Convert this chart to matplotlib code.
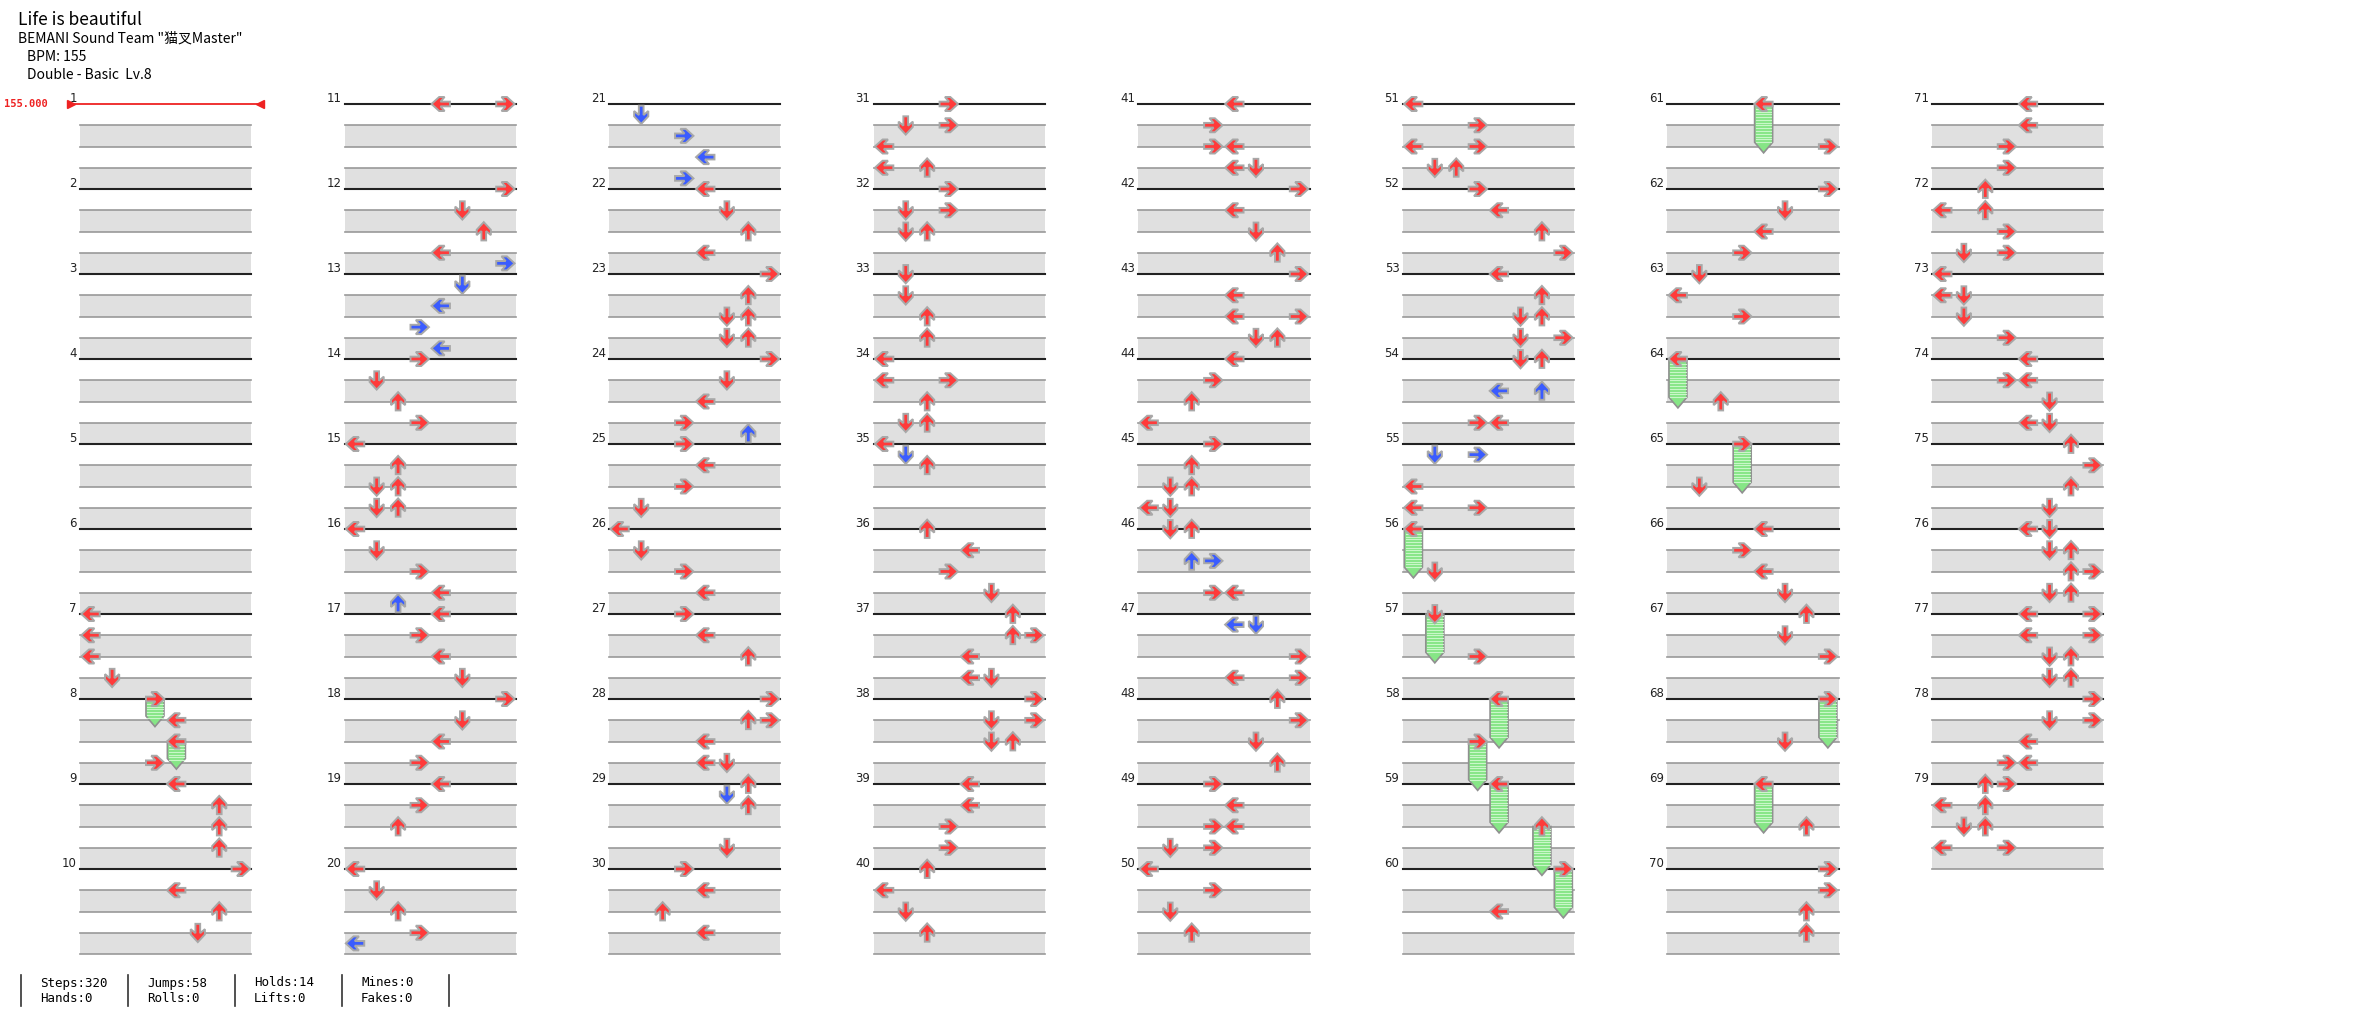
import numpy as np
import matplotlib
matplotlib.use("Agg")
import matplotlib.pyplot as plt
from matplotlib.patches import Polygon, Rectangle

# chart info
title = "Life is beautiful"
artist = 'BEMANI Sound Team "猫叉Master"'
bpm_text = "BPM: 155"
diff_text = "Double - Basic  Lv.8"
bpm_value = "155.000"
n_measures = 79

# notes: measure -> [(beat, [lanes])]  lanes 0..7 = L D U R L D U R
notes = {
    7: [(0, [0]), (1, [0]), (2, [0]), (3, [1])],
    8: [(0, [3]), (1, [4]), (2, [4]), (3, [3])],
    9: [(0, [4]), (1, [6]), (2, [6]), (3, [6])],
    10: [(0, [7]), (1, [4]), (2, [6]), (3, [5])],
    11: [(0, [4, 7])],
    12: [(0, [7]), (1, [5]), (2, [6]), (3, [4]), (3.5, [7])],
    13: [(0.5, [5]), (1.5, [4]), (2.5, [3]), (3.5, [4])],
    14: [(0, [3]), (1, [1]), (2, [2]), (3, [3])],
    15: [(0, [0]), (1, [2]), (2, [1, 2]), (3, [1, 2])],
    16: [(0, [0]), (1, [1]), (2, [3]), (3, [4]), (3.5, [2])],
    17: [(0, [4]), (1, [3]), (2, [4]), (3, [5])],
    18: [(0, [7]), (1, [5]), (2, [4]), (3, [3])],
    19: [(0, [4]), (1, [3]), (2, [2])],
    20: [(0, [0]), (1, [1]), (2, [2]), (3, [3]), (3.5, [0])],
    21: [(0.5, [1]), (1.5, [3]), (2.5, [4]), (3.5, [3])],
    22: [(0, [4]), (1, [5]), (2, [6]), (3, [4])],
    23: [(0, [7]), (1, [6]), (2, [5, 6]), (3, [5, 6])],
    24: [(0, [7]), (1, [5]), (2, [4]), (3, [3]), (3.5, [6])],
    25: [(0, [3]), (1, [4]), (2, [3]), (3, [1])],
    26: [(0, [0]), (1, [1]), (2, [3]), (3, [4])],
    27: [(0, [3]), (1, [4]), (2, [6])],
    28: [(0, [7]), (1, [6, 7]), (2, [4]), (3, [4, 5])],
    29: [(0, [6]), (0.5, [5]), (1, [6]), (3, [5])],
    30: [(0, [3]), (1, [4]), (2, [2]), (3, [4])],
    31: [(0, [3]), (1, [1, 3]), (2, [0]), (3, [0, 2])],
    32: [(0, [3]), (1, [1, 3]), (2, [1, 2])],
    33: [(0, [1]), (1, [1]), (2, [2]), (3, [2])],
    34: [(0, [0]), (1, [0, 3]), (2, [2]), (3, [1, 2])],
    35: [(0, [0]), (0.5, [1]), (1, [2])],
    36: [(0, [2]), (1, [4]), (2, [3]), (3, [5])],
    37: [(0, [6]), (1, [6, 7]), (2, [4]), (3, [4, 5])],
    38: [(0, [7]), (1, [5, 7]), (2, [5, 6])],
    39: [(0, [4]), (1, [4]), (2, [3]), (3, [3])],
    40: [(0, [2]), (1, [0]), (2, [1]), (3, [2])],
    41: [(0, [4]), (1, [3]), (2, [3, 4]), (3, [4, 5])],
    42: [(0, [7]), (1, [4]), (2, [5]), (3, [6])],
    43: [(0, [7]), (1, [4]), (2, [4, 7]), (3, [5, 6])],
    44: [(0, [4]), (1, [3]), (2, [2]), (3, [0])],
    45: [(0, [3]), (1, [2]), (2, [1, 2]), (3, [0, 1])],
    46: [(0, [1, 2]), (1.5, [2, 3]), (3, [3, 4])],
    47: [(0.5, [4, 5]), (2, [7]), (3, [4, 7])],
    48: [(0, [6]), (1, [7]), (2, [5]), (3, [6])],
    49: [(0, [3]), (1, [4]), (2, [3, 4]), (3, [1, 3])],
    50: [(0, [0]), (1, [3]), (2, [1]), (3, [2])],
    51: [(0, [0]), (1, [3]), (2, [0, 3]), (3, [1, 2])],
    52: [(0, [3]), (1, [4]), (2, [6]), (3, [7])],
    53: [(0, [4]), (1, [6]), (2, [5, 6]), (3, [5, 7])],
    54: [(0, [5, 6]), (1.5, [4, 6]), (3, [3, 4])],
    55: [(0.5, [1, 3]), (2, [0]), (3, [0, 3])],
    56: [(0, [0]), (2, [1])],
    57: [(0, [1]), (2, [3])],
    58: [(0, [4]), (2, [3])],
    59: [(0, [4]), (2, [6])],
    60: [(0, [7]), (2, [4])],
    61: [(0, [4]), (2, [7])],
    62: [(0, [7]), (1, [5]), (2, [4]), (3, [3])],
    63: [(0, [1]), (1, [0]), (2, [3])],
    64: [(0, [0]), (2, [2])],
    65: [(0, [3]), (2, [1])],
    66: [(0, [4]), (1, [3]), (2, [4]), (3, [5])],
    67: [(0, [6]), (1, [5]), (2, [7])],
    68: [(0, [7]), (2, [5])],
    69: [(0, [4]), (2, [6])],
    70: [(0, [7]), (1, [7]), (2, [6]), (3, [6])],
    71: [(0, [4]), (1, [4]), (2, [3]), (3, [3])],
    72: [(0, [2]), (1, [0, 2]), (2, [3]), (3, [1, 3])],
    73: [(0, [0]), (1, [0, 1]), (2, [1]), (3, [3])],
    74: [(0, [4]), (1, [3, 4]), (2, [5]), (3, [4, 5])],
    75: [(0, [6]), (1, [7]), (2, [6]), (3, [5])],
    76: [(0, [4, 5]), (1, [5, 6]), (2, [6, 7]), (3, [5, 6])],
    77: [(0, [4, 7]), (1, [4, 7]), (2, [5, 6]), (3, [5, 6])],
    78: [(0, [7]), (1, [5, 7]), (2, [4]), (3, [3, 4])],
    79: [(0, [2, 3]), (1, [0, 2]), (2, [1, 2]), (3, [0, 3])],
}

# holds: (measure, beat, lane, length in beats)
holds = [(8, 0, 3, 1), (8, 2, 4, 1), (56, 0, 0, 2), (57, 0, 1, 2), (58, 0, 4, 2),
         (58, 2, 3, 2), (59, 0, 4, 2), (59, 2, 6, 2), (60, 0, 7, 2), (61, 0, 4, 2),
         (64, 0, 0, 2), (65, 0, 3, 2), (68, 0, 7, 2), (69, 0, 4, 2)]

stat_top = ["Steps:320", "Jumps:58", "Holds:14", "Mines:0"]
stat_bot = ["Hands:0", "Rolls:0", "Lifts:0", "Fakes:0"]

# layout (pixels per lane / beat)
LW = 21.42
BH = 21.25
X0, Y0 = 80, 104
COL = 12.35
W, H = 2357, 1024

fig = plt.figure(figsize=(W / 100, H / 100), dpi=100)
ax = fig.add_axes([0, 0, 1, 1])
ax.set_xlim(-X0 / LW, (W - X0) / LW)
ax.set_ylim((H - Y0) / BH, -Y0 / BH)
ax.axis("off")

def origin(m, beat=0):
    c = (m - 1) // 10
    r = (m - 1) % 10
    return c * COL, r * 4 + beat

# measure grid
for m in range(1, n_measures + 1):
    x, y = origin(m)
    for b in (1, 3):
        ax.add_patch(Rectangle((x, y + b), 8, 1, fc="#e0e0e0", ec="none", zorder=1))
        ax.plot([x, x + 8], [y + b, y + b], color="#999999", lw=1.2, zorder=2)
        ax.plot([x, x + 8], [y + b + 1, y + b + 1], color="#999999", lw=1.2, zorder=2)
    if m == 1:
        ax.plot([x - 0.4, x + 8.4], [y, y], color="#ee2222", lw=1.3, zorder=3)
        ax.plot([x - 0.4], [y], marker=">", color="#ee2222", ms=6, zorder=3)
        ax.plot([x + 8.4], [y], marker="<", color="#ee2222", ms=6, zorder=3)
        ax.text(x - 1.5, y, bpm_value, color="#ee2222", fontsize=7.5, family="DejaVu Sans Mono",
                ha="right", va="center", fontweight="bold")
    else:
        ax.plot([x, x + 8], [y, y], color="#222222", lw=1.5, zorder=2)
    ax.text(x - 0.15, y + 0.05, str(m), fontsize=8.5, color="#222222", ha="right", va="bottom", zorder=4)

# arrow shape pointing +x
arrow = np.array([(-0.42, -0.11), (0.02, -0.11), (-0.17, -0.33), (0.08, -0.33), (0.44, 0),
                  (0.08, 0.33), (-0.17, 0.33), (0.02, 0.11), (-0.42, 0.11)])
dirs = {0: (-1, 0), 1: (0, 1), 2: (0, -1), 3: (1, 0)}

def draw_arrow(cx, cy, lane, color):
    dx, dy = dirs[lane % 4]
    pts = np.column_stack([arrow[:, 0] * dx - arrow[:, 1] * dy,
                           arrow[:, 0] * dy + arrow[:, 1] * dx]) + [cx, cy]
    ax.add_patch(Polygon(pts, closed=True, fc=color, ec="#a8a8a8", lw=1.4, zorder=6))

# hold bodies
for m, beat, lane, length in holds:
    x, y = origin(m, beat)
    cx = x + lane + 0.5
    end = y + length
    body = [(cx - 0.42, y), (cx + 0.42, y), (cx + 0.42, end - 0.2), (cx, end + 0.3),
            (cx - 0.42, end - 0.2)]
    ax.add_patch(Polygon(body, closed=True, fc="#86e686", ec="#909090", lw=1.2, zorder=4))
    for yy in np.arange(y + 0.1, end - 0.1, 0.13):
        ax.plot([cx - 0.36, cx + 0.36], [yy, yy], color="#c9f7c9", lw=0.8, zorder=5)

# notes
for m, rows in notes.items():
    for beat, lanes in rows:
        x, y = origin(m, beat)
        color = "#ff3a3a" if beat == int(beat) else "#3a5cff"
        for lane in lanes:
            draw_arrow(x + lane + 0.5, y, lane, color)

# header
hfont = ["Noto Sans CJK JP", "DejaVu Sans"]
fig.text(18 / W, 1 - 20 / H, title, fontsize=12.5, family=hfont, va="center")
fig.text(18 / W, 1 - 39 / H, artist, fontsize=10, family=hfont, va="center")
fig.text(27 / W, 1 - 57 / H, bpm_text, fontsize=10, family=hfont, va="center")
fig.text(27 / W, 1 - 75 / H, diff_text, fontsize=10, family=hfont, va="center")

# footer stats
for i in range(5):
    xp = 21 + i * 107
    ax.plot([(xp - X0) / LW] * 2, [(975 - Y0) / BH, (1006 - Y0) / BH], color="#333333", lw=1.2)
for i in range(4):
    xp = 40 + i * 107
    fig.text(xp / W, 1 - 983 / H, stat_top[i], fontsize=9, family="DejaVu Sans Mono", va="center")
    fig.text(xp / W, 1 - 998 / H, stat_bot[i], fontsize=9, family="DejaVu Sans Mono", va="center")

fig.savefig("out.png", dpi=100, facecolor="white")
